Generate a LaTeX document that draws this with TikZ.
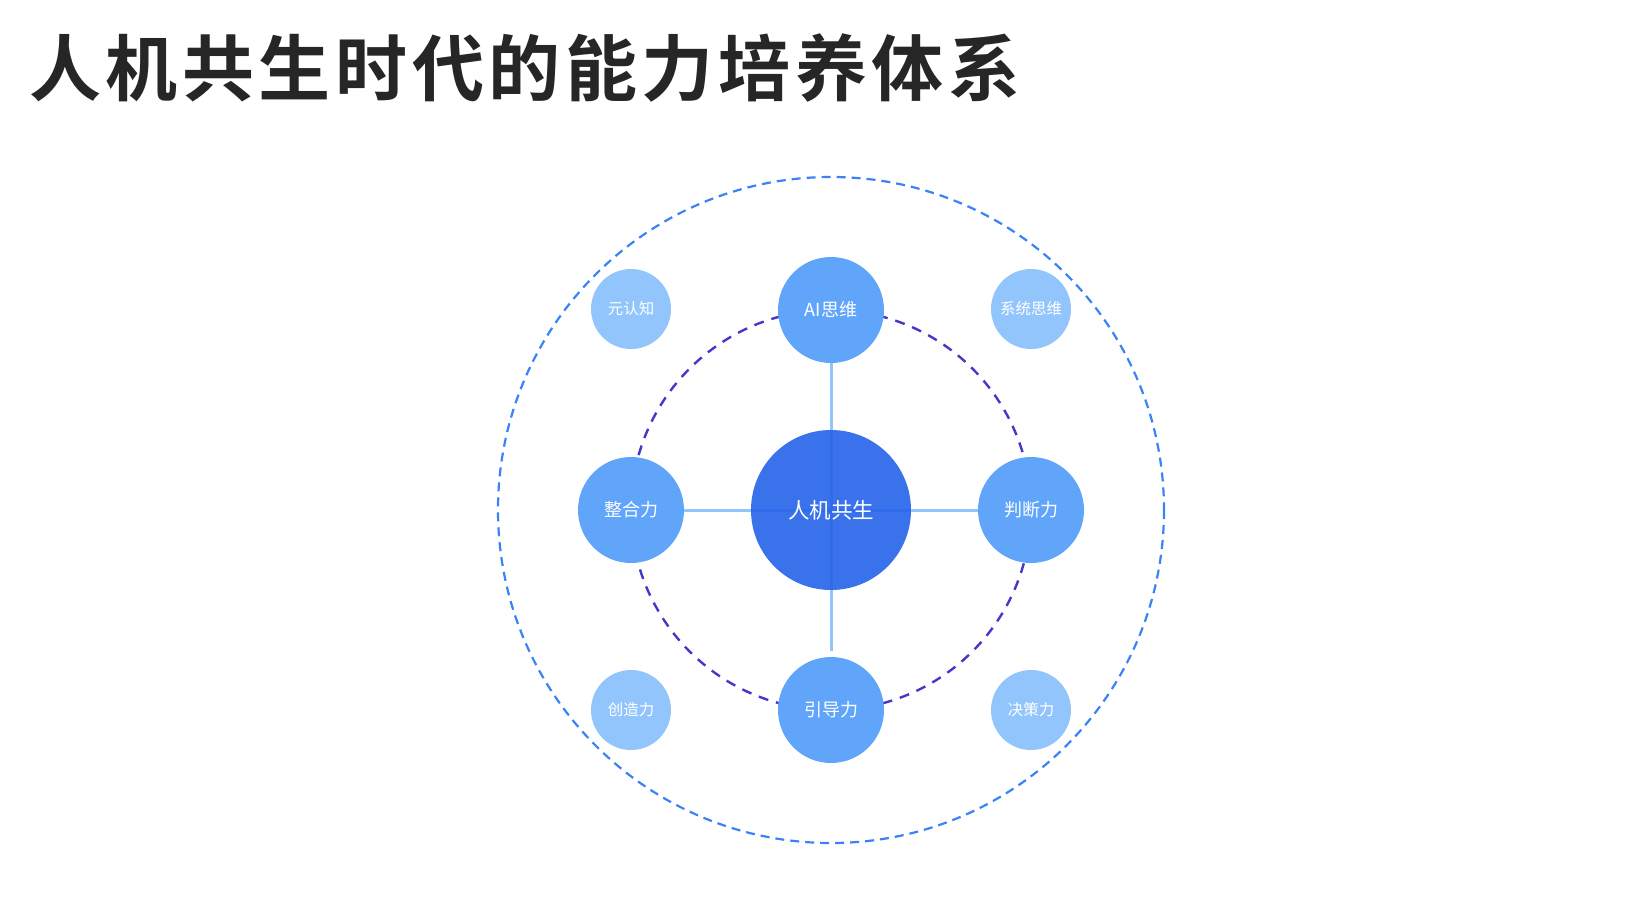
\documentclass[tikz,border=0pt]{standalone}
\usepackage{fontspec}
\newfontfamily\cjk{Noto Sans CJK SC}
\newfontfamily\cjkbold{Noto Sans CJK SC Bold}
\definecolor{titlecol}{HTML}{262626}
\definecolor{coreblue}{HTML}{2563EB}
\definecolor{midblue}{HTML}{60A5FA}
\definecolor{lightblue}{HTML}{93C5FD}
\definecolor{outerdash}{HTML}{3B82F6}
\definecolor{innerdash}{HTML}{4338CA}
\tikzset{
  corenode/.style={circle, fill=coreblue, fill opacity=0.9, text opacity=1, minimum size=160pt, inner sep=0pt, text=white, font=\cjk\fontsize{21.5}{24}\selectfont},
  midnode/.style={circle, fill=midblue, minimum size=106pt, inner sep=0pt, text=white, font=\cjk\fontsize{18}{20}\selectfont},
  smallnode/.style={circle, fill=lightblue, minimum size=80pt, inner sep=0pt, text=white, font=\cjk\fontsize{15.5}{17}\selectfont},
  spoke/.style={draw=lightblue, line width=3pt},
  outerring/.style={draw=outerdash, line width=2.2pt, dash pattern=on 9pt off 6pt},
  innerring/.style={draw=innerdash, line width=2.4pt, dash pattern=on 10pt off 8pt},
}
\begin{document}
\begin{tikzpicture}[x=1pt,y=-1pt]
\useasboundingbox (0,0) rectangle (1628,899);
\fill[white] (0,0) rectangle (1628,899);
% title
\node[anchor=west, text=titlecol, font=\cjkbold\fontsize{72}{80}\selectfont, inner sep=0pt] (title) at (29,68)
  {人\kern4.6pt 机\kern4.6pt 共\kern4.6pt 生\kern4.6pt 时\kern4.6pt 代\kern4.6pt 的\kern4.6pt 能\kern4.6pt 力\kern4.6pt 培\kern4.6pt 养\kern4.6pt 体\kern4.6pt 系};
% rings
\coordinate (c) at (831,510);
\draw[outerring] (c) circle[radius=333];
\draw[innerring] (c) circle[radius=200];
% spoke end coordinates
\coordinate (topend) at (831,362);
\coordinate (botend) at (831,651);
\coordinate (leftend) at (684,510);
\coordinate (rightend) at (978,510);
\draw[spoke] (c) -- (topend);
\draw[spoke] (c) -- (botend);
\draw[spoke] (c) -- (leftend);
\draw[spoke] (c) -- (rightend);
% nodes
\node[corenode] (core) at (c) {\raisebox{2pt}{人机共生}};
\node[midnode] (ai) at (831,310) {\raisebox{1.5pt}{AI思维}};
\node[midnode] (zh) at (631,510) {\raisebox{1.5pt}{整合力}};
\node[midnode] (pd) at (1031,510) {\raisebox{1.5pt}{判断力}};
\node[midnode] (yd) at (831,710) {\raisebox{1.5pt}{引导力}};
\node[smallnode] (yrz) at (631,309) {\raisebox{1pt}{元认知}};
\node[smallnode] (xt) at (1031,309) {\raisebox{1pt}{系统思维}};
\node[smallnode] (cz) at (631,710) {\raisebox{1pt}{创造力}};
\node[smallnode] (jc) at (1031,710) {\raisebox{1pt}{决策力}};
\end{tikzpicture}
\end{document}
